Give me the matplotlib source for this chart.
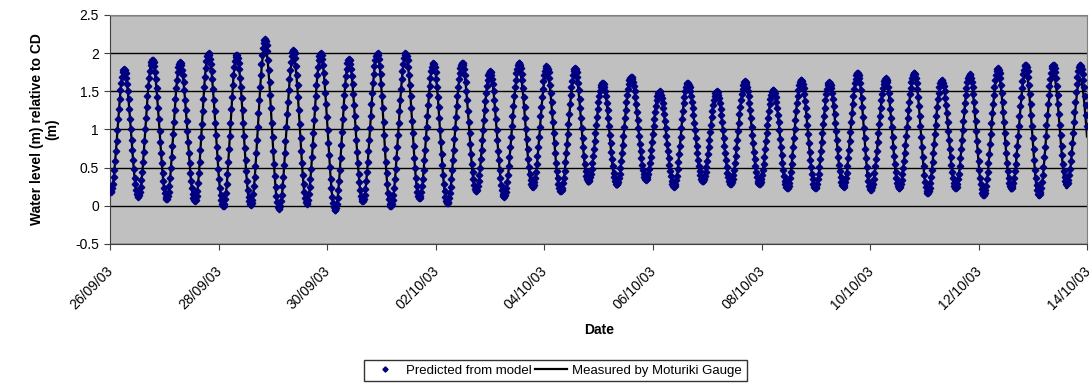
import numpy as np
import matplotlib.pyplot as plt
from matplotlib.transforms import ScaledTranslation

plt.rcParams['font.family'] = ['Liberation Sans', 'DejaVu Sans']

# successive low / high waters (days after 26/09/03 00:00)
turn_days = [0.01, 0.258, 0.521, 0.779, 1.044, 1.289, 1.565, 1.810, 2.087, 2.333,
             2.591, 2.855, 3.112, 3.376, 3.622, 3.880, 4.144, 4.398, 4.654, 4.923,
             5.169, 5.446, 5.696, 5.954, 6.212, 6.488, 6.740, 6.998, 7.256, 7.532,
             7.784, 8.042, 8.300, 8.564, 8.809, 9.074, 9.331, 9.595, 9.871, 10.116,
             10.387, 10.639, 10.915, 11.173, 11.431, 11.694, 11.958, 12.215, 12.473, 12.726,
             12.989, 13.247, 13.505, 13.770, 14.010, 14.285, 14.530, 14.812, 15.059, 15.316,
             15.575, 15.831, 16.088, 16.354, 16.599, 16.864, 17.109, 17.372, 17.619, 17.867,
             18.13]
predicted = [0.18, 1.79, 0.12, 1.91, 0.09, 1.88, 0.06, 2.00, -0.01, 1.98,
             0.01, 2.18, -0.04, 2.04, 0.03, 2.00, -0.06, 1.92, 0.06, 2.00,
             -0.01, 2.00, 0.10, 1.87, 0.03, 1.87, 0.19, 1.76, 0.12, 1.87,
             0.25, 1.83, 0.19, 1.80, 0.32, 1.61, 0.28, 1.69, 0.34, 1.50,
             0.25, 1.61, 0.32, 1.50, 0.28, 1.63, 0.28, 1.52, 0.23, 1.65,
             0.23, 1.62, 0.25, 1.74, 0.21, 1.67, 0.23, 1.74, 0.17, 1.65,
             0.23, 1.72, 0.14, 1.80, 0.23, 1.85, 0.14, 1.85, 0.28, 1.85,
             0.20]
measured = [0.16, 1.77, 0.10, 1.89, 0.08, 1.86, 0.03, 1.97, -0.03, 1.95,
            -0.02, 2.08, -0.07, 1.95, 0.02, 1.96, -0.07, 1.90, 0.05, 1.97,
            -0.04, 1.96, 0.07, 1.85, 0.02, 1.84, 0.18, 1.74, 0.11, 1.78,
            0.21, 1.74, 0.16, 1.74, 0.28, 1.60, 0.24, 1.67, 0.32, 1.50,
            0.24, 1.62, 0.31, 1.49, 0.27, 1.62, 0.27, 1.51, 0.22, 1.63,
            0.22, 1.60, 0.24, 1.72, 0.17, 1.65, 0.22, 1.72, 0.16, 1.63,
            0.22, 1.70, 0.11, 1.72, 0.19, 1.74, 0.10, 1.72, 0.23, 1.66,
            0.05]

tick_days = [0, 2, 4, 6, 8, 10, 12, 14, 16, 18]
tick_labels = ['26/09/03', '28/09/03', '30/09/03', '02/10/03', '04/10/03',
               '06/10/03', '08/10/03', '10/10/03', '12/10/03', '14/10/03']


def tide_curve(t, t_ext, v_ext):
    # cosine shape between consecutive turning points
    t_ext = np.asarray(t_ext)
    v_ext = np.asarray(v_ext)
    i = np.clip(np.searchsorted(t_ext, t) - 1, 0, len(t_ext) - 2)
    f = (t - t_ext[i]) / (t_ext[i + 1] - t_ext[i])
    f = np.clip(f, 0, 1)
    return v_ext[i] + (v_ext[i + 1] - v_ext[i]) * (1 - np.cos(np.pi * f)) / 2


t_model = np.arange(0.01, 18.0, 1 / 72)   # every 20 min
t_gauge = np.arange(0.0, 18.0, 1 / 144)

fig = plt.figure(figsize=(10.89, 3.83), dpi=100)
ax = fig.add_axes([0.101, 0.363, 0.8975, 0.598])
ax.set_facecolor('#c0c0c0')

ax.plot(t_gauge, tide_curve(t_gauge, turn_days, measured), color='black', lw=1.6,
        label='Measured by Moturiki Gauge', zorder=2)
ax.plot(t_model, tide_curve(t_model, turn_days, predicted), ls='none', marker='D',
        ms=3.3, color='#000080', label='Predicted from model', zorder=3)

ax.set_xlim(0, 18)
ax.set_ylim(-0.5, 2.5)
ax.set_yticks(np.arange(-0.5, 2.51, 0.5))
ax.set_yticklabels(['-0.5', '0', '0.5', '1', '1.5', '2', '2.5'])
ax.set_xticks(tick_days)
ax.set_xticklabels(tick_labels, rotation=45, ha='right', rotation_mode='anchor')
ax.yaxis.grid(True, color='black', lw=1)
ax.set_axisbelow(True)
ax.tick_params(labelsize=10, length=4.5, color='#404040')
ax.tick_params(axis='x', pad=10)
shift = ScaledTranslation(-4 / 100, 0, fig.dpi_scale_trans)
for lab in ax.get_xticklabels():
    lab.set_transform(lab.get_transform() + shift)

for s in ['top', 'right']:
    ax.spines[s].set_color('#808080')
for s in ['left', 'bottom']:
    ax.spines[s].set_color('#404040')

ax.set_xlabel('Date', fontsize=10, fontweight='bold', labelpad=8)
ax.set_ylabel('Water level (m) relative to CD\n(m)', fontsize=10, fontweight='bold',
              labelpad=11)

h, l = ax.get_legend_handles_labels()
fig.legend(h[::-1], l[::-1], loc='center', bbox_to_anchor=(0.51, 0.032), ncol=2,
           fontsize=9.5, frameon=True, fancybox=False, edgecolor='black',
           handlelength=2.4, columnspacing=0.3, handletextpad=0.4,
           borderpad=0.35, markerscale=0.8)

fig.savefig('out.png', dpi=100, facecolor='white')
